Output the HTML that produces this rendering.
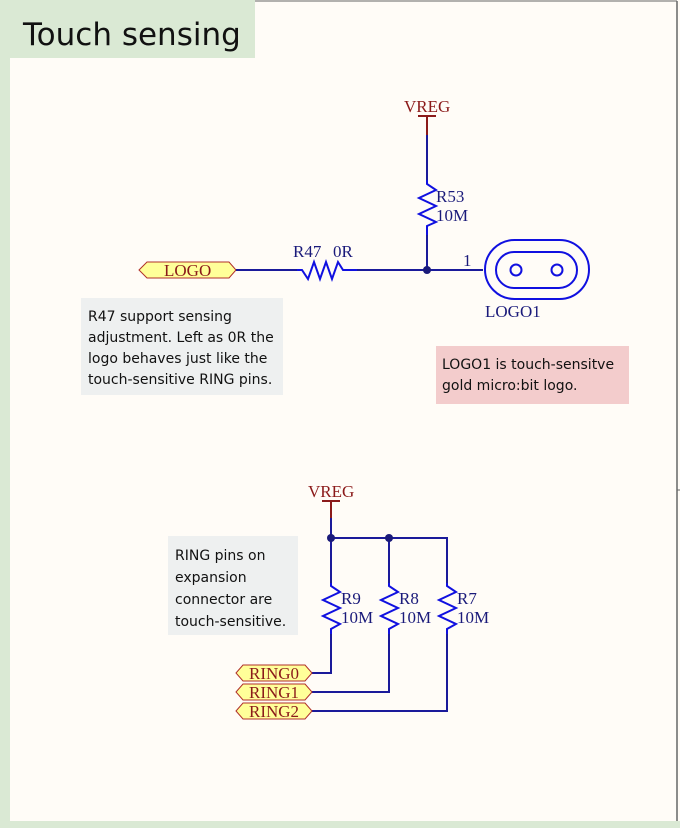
<!DOCTYPE html>
<html><head><meta charset="utf-8"><style>
body{margin:0;width:680px;height:828px;overflow:hidden;background:#fffcf7}
svg{display:block}
.n{font-family:"DejaVu Sans","Liberation Sans",sans-serif;font-size:14px;fill:#111}
</style></head><body>
<svg width="680" height="828" viewBox="0 0 680 828" xmlns="http://www.w3.org/2000/svg">
<rect x="0" y="0" width="680" height="828" fill="#fffcf7"/>
<line x1="0" y1="1" x2="677" y2="1" stroke="#666" stroke-width="1"/>
<line x1="677" y1="1" x2="677" y2="821" stroke="#666" stroke-width="1.5"/>
<line x1="677" y1="490" x2="680" y2="490" stroke="#666"/>
<rect x="0" y="0" width="10" height="828" fill="#dae9d4"/>
<rect x="0" y="0" width="255" height="58" fill="#dae9d4"/>
<rect x="0" y="821" width="680" height="7" fill="#dae9d4"/>
<text x="23" y="45" font-family="DejaVu Sans,Liberation Sans,sans-serif" font-size="31" fill="#111">Touch sensing</text>

<rect x="81" y="298" width="202" height="97" fill="#eef0f0"/>
<text class="n"><tspan x="88" y="321">R47 support sensing</tspan><tspan x="88" y="342">adjustment. Left as 0R the</tspan><tspan x="88" y="363">logo behaves just like the</tspan><tspan x="88" y="384">touch-sensitive RING pins.</tspan></text>
<rect x="436" y="346" width="193" height="58" fill="#f3cccc"/>
<text class="n"><tspan x="442" y="369">LOGO1 is touch-sensitve</tspan><tspan x="442" y="390">gold micro:bit logo.</tspan></text>
<rect x="168" y="536" width="130" height="99" fill="#eef0f0"/>
<text class="n"><tspan x="175" y="560">RING pins on</tspan><tspan x="175" y="582">expansion</tspan><tspan x="175" y="604">connector are</tspan><tspan x="175" y="626">touch-sensitive.</tspan></text>

<g fill="none" stroke-width="2">
<polygon points="139,270 147,262 229,262 236,270 229,278 147,278" fill="#ffff99" stroke="#b0302a" stroke-width="1"/>
<line x1="236" y1="270" x2="297" y2="270" stroke="#1a1a9a"/>
<polyline points="297,270 302,270 308,279 314,262 320,279 326,262 332,279 338,262 343,270 357,270" stroke="#1010e0"/>
<line x1="357" y1="270" x2="483" y2="270" stroke="#1a1a9a"/>
<line x1="418" y1="116" x2="436" y2="116" stroke="#8b1a1a"/>
<line x1="427" y1="116" x2="427" y2="135" stroke="#8b1a1a"/>
<line x1="427" y1="135" x2="427" y2="180" stroke="#1a1a9a"/>
<polyline points="427,180 427,184 436,190 419,198 436,206 419,214 436,222 427,226 427,235" stroke="#1010e0"/>
<line x1="427" y1="235" x2="427" y2="270" stroke="#1a1a9a"/>
<rect x="485" y="240" width="104" height="59" rx="29.5" stroke="#1010e0"/>
<rect x="496" y="252" width="81" height="36" rx="18" stroke="#1010e0"/>
<circle cx="516" cy="270" r="5.5" stroke="#1010e0"/>
<circle cx="557" cy="270" r="5.5" stroke="#1010e0"/>

<line x1="322" y1="501" x2="340" y2="501" stroke="#8b1a1a"/>
<line x1="331" y1="501" x2="331" y2="518" stroke="#8b1a1a"/>
<polyline points="331,518 331,538 447,538 447,583" stroke="#1a1a9a"/>
<line x1="389" y1="538" x2="389" y2="583" stroke="#1a1a9a"/>
<line x1="331" y1="538" x2="331" y2="583" stroke="#1a1a9a"/>
<g stroke="#1010e0">
<polyline points="331,583 331,586 340,592 323,600 340,608 323,616 340,624 331,629 331,634"/>
<polyline points="389,583 389,586 398,592 381,600 398,608 381,616 398,624 389,629 389,634"/>
<polyline points="447,583 447,586 456,592 439,600 456,608 439,616 456,624 447,629 447,634"/>
</g>
<polyline points="331,634 331,673 312,673" stroke="#1a1a9a"/>
<polyline points="389,634 389,692 312,692" stroke="#1a1a9a"/>
<polyline points="447,634 447,711 312,711" stroke="#1a1a9a"/>
<g fill="#ffff99" stroke="#b0302a" stroke-width="1">
<polygon points="236,673 243,665 305,665 312,673 305,681 243,681"/>
<polygon points="236,692 243,684 305,684 312,692 305,700 243,700"/>
<polygon points="236,711 243,703 305,703 312,711 305,719 243,719"/>
</g>
</g>
<circle cx="427" cy="270" r="4" fill="#1a1a7a"/>
<circle cx="331" cy="538" r="4" fill="#1a1a7a"/>
<circle cx="389" cy="538" r="4" fill="#1a1a7a"/>

<g font-family="Liberation Serif,serif" font-size="17">
<text x="164" y="276" fill="#8b1a1a">LOGO</text>
<text x="404" y="112" fill="#8b1a1a">VREG</text>
<text x="308" y="497" fill="#8b1a1a">VREG</text>
<text x="249" y="679" fill="#8b1a1a">RING0</text>
<text x="249" y="698" fill="#8b1a1a">RING1</text>
<text x="249" y="717" fill="#8b1a1a">RING2</text>
<g fill="#1a1a7a">
<text x="293" y="257">R47</text><text x="333" y="257">0R</text>
<text x="436" y="202">R53</text>
<text x="436" y="221">10M</text>
<text x="463" y="266">1</text>
<text x="485" y="317">LOGO1</text>
<text x="341" y="604">R9</text><text x="341" y="623">10M</text>
<text x="399" y="604">R8</text><text x="399" y="623">10M</text>
<text x="457" y="604">R7</text><text x="457" y="623">10M</text>
</g></g>
</svg>
</body></html>
